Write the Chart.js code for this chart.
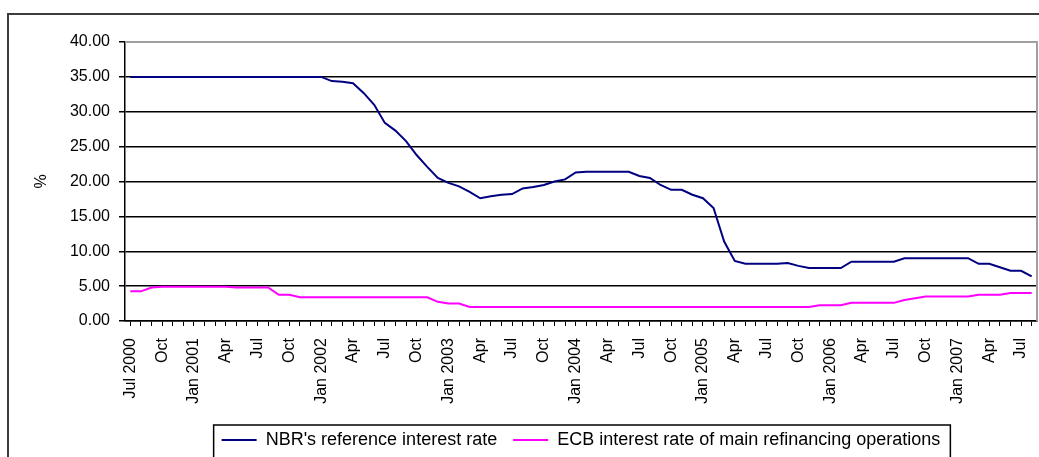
<!DOCTYPE html>
<html>
<head>
<meta charset="utf-8">
<script src="https://cdn.jsdelivr.net/npm/chart.js@4.4.0/dist/chart.umd.min.js"></script>
<style>
    html, body { margin: 0; padding: 0; background: #fff; overflow: hidden; }
    #frame { position: absolute; left: 7px; top: 13px; width: 1100px; height: 500px; border: 2px solid #3c3c3c; }
    #wrap { position: absolute; left: 0; top: 0; width: 1039px; height: 457px; }
</style>
</head>
<body>
<div id="frame"></div>
<div id="wrap"><canvas id="myChart"></canvas></div>
<script>
    // Months from Jul 2000 to Aug 2007 (only every third one gets a label)
    const months = [
        'Jul 2000', 'Aug', 'Sep', 'Oct', 'Nov', 'Dec',
        'Jan 2001', 'Feb', 'Mar', 'Apr', 'May', 'Jun', 'Jul', 'Aug', 'Sep', 'Oct', 'Nov', 'Dec',
        'Jan 2002', 'Feb', 'Mar', 'Apr', 'May', 'Jun', 'Jul', 'Aug', 'Sep', 'Oct', 'Nov', 'Dec',
        'Jan 2003', 'Feb', 'Mar', 'Apr', 'May', 'Jun', 'Jul', 'Aug', 'Sep', 'Oct', 'Nov', 'Dec',
        'Jan 2004', 'Feb', 'Mar', 'Apr', 'May', 'Jun', 'Jul', 'Aug', 'Sep', 'Oct', 'Nov', 'Dec',
        'Jan 2005', 'Feb', 'Mar', 'Apr', 'May', 'Jun', 'Jul', 'Aug', 'Sep', 'Oct', 'Nov', 'Dec',
        'Jan 2006', 'Feb', 'Mar', 'Apr', 'May', 'Jun', 'Jul', 'Aug', 'Sep', 'Oct', 'Nov', 'Dec',
        'Jan 2007', 'Feb', 'Mar', 'Apr', 'May', 'Jun', 'Jul', 'Aug'
    ];

    // NBR's reference interest rate (%)
    const nbrRate = [
        35, 35, 35, 35, 35, 35,
        35, 35, 35, 35, 35, 35, 35, 35, 35, 35, 35, 35,
        35, 34.4, 34.3, 34.1, 32.7, 31.0, 28.4, 27.3, 25.8, 23.8, 22.1, 20.5,
        19.8, 19.3, 18.5, 17.6, 17.9, 18.1, 18.2, 19.0, 19.2, 19.5, 20.0, 20.3,
        21.3, 21.4, 21.4, 21.4, 21.4, 21.4, 20.8, 20.5, 19.5, 18.8, 18.8, 18.1,
        17.6, 16.2, 11.4, 8.6, 8.2, 8.2, 8.2, 8.2, 8.3, 7.9, 7.6, 7.6,
        7.6, 7.6, 8.5, 8.5, 8.5, 8.5, 8.5, 9.0, 9.0, 9.0, 9.0, 9.0,
        9.0, 9.0, 8.2, 8.2, 7.7, 7.2, 7.2, 6.4
    ];

    // ECB interest rate of main refinancing operations (%)
    const ecbRate = [
        4.25, 4.25, 4.8, 4.9, 4.9, 4.9,
        4.9, 4.9, 4.9, 4.9, 4.8, 4.8, 4.8, 4.8, 3.75, 3.75, 3.4, 3.4,
        3.4, 3.4, 3.4, 3.4, 3.4, 3.4, 3.4, 3.4, 3.4, 3.4, 3.4, 2.75,
        2.5, 2.5, 2.0, 2.0, 2.0, 2.0, 2.0, 2.0, 2.0, 2.0, 2.0, 2.0,
        2.0, 2.0, 2.0, 2.0, 2.0, 2.0, 2.0, 2.0, 2.0, 2.0, 2.0, 2.0,
        2.0, 2.0, 2.0, 2.0, 2.0, 2.0, 2.0, 2.0, 2.0, 2.0, 2.0, 2.25,
        2.25, 2.25, 2.6, 2.6, 2.6, 2.6, 2.6, 3.0, 3.25, 3.5, 3.5, 3.5,
        3.5, 3.5, 3.75, 3.75, 3.75, 4.0, 4.0, 4.0
    ];

    const yTicks = [0, 5, 10, 15, 20, 25, 30, 35, 40];

    const font = { family: "'Liberation Sans', Arial, sans-serif", size: 16 };
    const legendFont = { family: "'Liberation Sans', Arial, sans-serif", size: 18 };

    // gray plot-area edge on top/right and a box around the legend
    const framePlugin = {
        id: 'frame',
        beforeDatasetsDraw(chart) {
            const { ctx, chartArea: a } = chart;
            ctx.save();
            ctx.strokeStyle = '#a0a0a0';
            ctx.lineWidth = 2;
            ctx.beginPath();
            ctx.moveTo(a.left, a.top);
            ctx.lineTo(a.right, a.top);
            ctx.lineTo(a.right, a.bottom);
            ctx.stroke();
            ctx.restore();
        },
        afterDraw(chart) {
            const boxes = chart.legend.legendHitBoxes;
            if (!boxes || !boxes.length) return;
            const first = boxes[0];
            const last = boxes[boxes.length - 1];
            const left = first.left - 8;
            const right = last.left + last.width + 10;
            const top = first.top - 6;
            const ctx = chart.ctx;
            ctx.save();
            ctx.strokeStyle = '#000';
            ctx.lineWidth = 1.5;
            ctx.strokeRect(left, top, right - left, 100);
            ctx.restore();
        }
    };

    const ctx = document.getElementById('myChart').getContext('2d');
    const chart = new Chart(ctx, {
        type: 'line',
        data: {
            labels: months,
            datasets: [
                {
                    label: "NBR's reference interest rate",
                    data: nbrRate,
                    borderColor: '#000080',
                    backgroundColor: '#000080',
                    borderWidth: 2,
                    pointRadius: 0,
                    pointStyle: 'line',
                    tension: 0
                },
                {
                    label: 'ECB interest rate of main refinancing operations',
                    data: ecbRate,
                    borderColor: '#ff00ff',
                    backgroundColor: '#ff00ff',
                    borderWidth: 2,
                    pointRadius: 0,
                    pointStyle: 'line',
                    tension: 0
                }
            ]
        },
        options: {
            responsive: true,
            maintainAspectRatio: false,
            animation: false,
            layout: { padding: { left: 8, right: 2, top: 42, bottom: 0 } },
            plugins: {
                tooltip: { enabled: false },
                legend: {
                    position: 'bottom',
                    fullSize: false,
                    maxHeight: 42,
                    labels: {
                        font: legendFont,
                        color: '#000',
                        usePointStyle: true,
                        pointStyleWidth: 35,
                        boxHeight: 2,
                        padding: 16
                    }
                }
            },
            scales: {
                x: {
                    offset: true,
                    afterFit(scale) {
                        scale.height = 94;
                        scale.paddingLeft = 0;
                        scale.paddingRight = 0;
                    },
                    grid: {
                        drawOnChartArea: false,
                        color: '#000',
                        tickLength: 5,
                        lineWidth: 1
                    },
                    border: { color: '#000', width: 1.5 },
                    ticks: {
                        font: font,
                        color: '#000',
                        autoSkip: false,
                        minRotation: 90,
                        maxRotation: 90,
                        padding: 12,
                        callback: (v, i) => (i % 3 === 0 ? months[i] : '')
                    }
                },
                y: {
                    min: 0,
                    max: 40,
                    afterFit(scale) { scale.width = 117; },
                    afterBuildTicks(scale) { scale.ticks = yTicks.map(v => ({ value: v })); },
                    grid: {
                        color: c => (c.tick && c.tick.value === 40 ? '#a0a0a0' : '#000'),
                        tickColor: '#000',
                        lineWidth: 1.5,
                        tickLength: 6
                    },
                    border: { color: '#000', width: 1.5 },
                    ticks: {
                        font: font,
                        color: '#000',
                        padding: 9,
                        callback: v => v.toFixed(2)
                    },
                    title: {
                        display: true,
                        text: '%',
                        font: font,
                        color: '#000',
                        padding: { top: 24, bottom: 0 }
                    }
                }
            }
        },
        plugins: [framePlugin]
    });
</script>
</body>
</html>
